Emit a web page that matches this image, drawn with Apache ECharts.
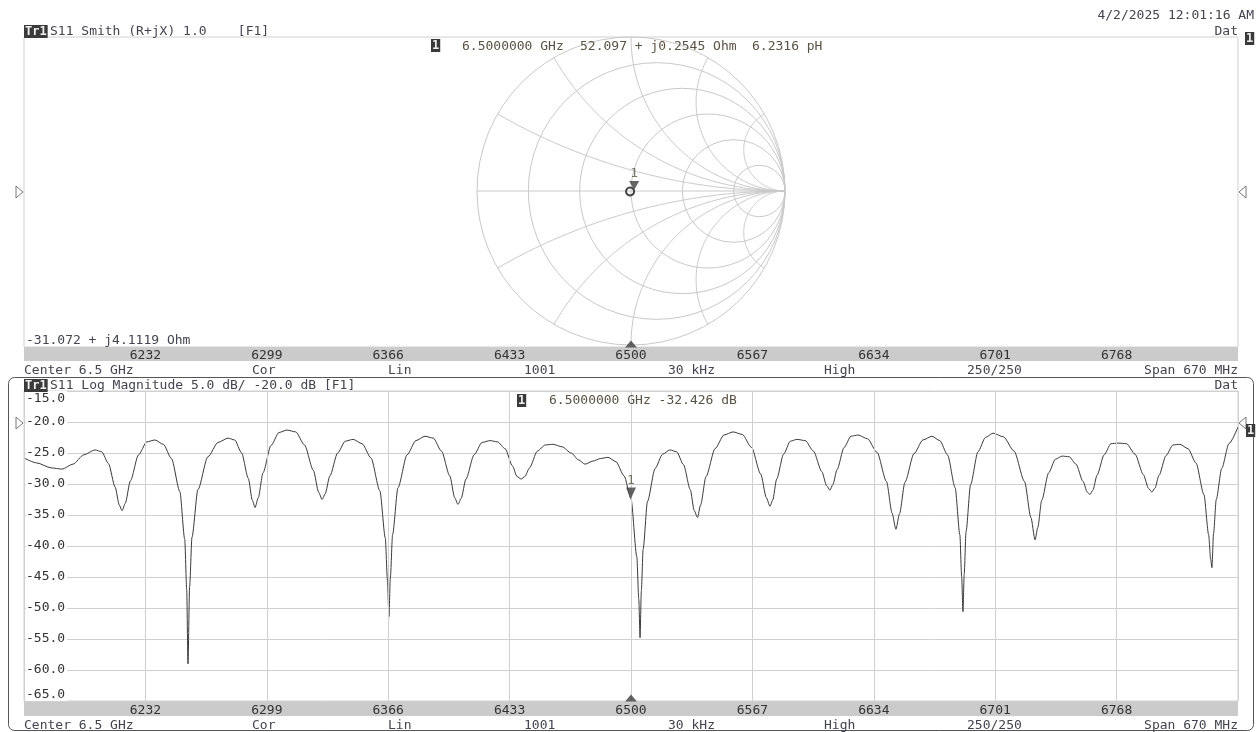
<!DOCTYPE html>
<html>
<head>
<meta charset="utf-8">
<script src="https://cdn.jsdelivr.net/npm/echarts@6/dist/echarts.min.js"></script>
<style>
html,body{margin:0;padding:0;background:#fff;}
#chart{width:1256px;height:732px;}
</style>
</head>
<body>
<div id="chart"></div>
<script>
// ---------- DATA ----------
const freqStart = 6165, freqStop = 6835, freqStep = 67;   // MHz
const dbMin = -65, dbMax = -15, dbStep = 5;

const traceFreq = [6165,6172,6180,6186,6192,6198,6204.2,6207.9,6211.6,6215.3,6217.6,6219.1,6220.9,6223.7,6228.2,6232.8,6237.3,6241.9,6246.4,6251.0,6253.7,6254.8,6255.5,6256.4,6257.7,6261.0,6266.5,6272.1,6277.6,6281.3,6285.1,6288.8,6291.0,6292.5,6294.3,6296.9,6301.3,6305.7,6310.1,6315.0,6319.8,6324.7,6327.6,6329.5,6331.2,6333.8,6338.1,6342.3,6346.6,6351.6,6356.5,6361.4,6364.4,6365.6,6366.4,6367.2,6368.4,6371.4,6376.4,6381.3,6386.3,6390.9,6395.4,6400.0,6402.7,6404.5,6406.3,6408.9,6413.4,6417.8,6422.2,6426.3,6430.5,6434.6,6437.1,6439.4,6441.4,6444.0,6448.3,6452.7,6457.0,6462.0,6467.0,6471.0,6474.6,6479.0,6483.0,6487.3,6491.7,6496.2,6500.0,6503.2,6504.3,6505.0,6505.7,6506.7,6509.1,6513.3,6517.4,6521.5,6525.2,6529.0,6532.7,6534.9,6536.7,6538.4,6541.4,6546.4,6551.3,6556.3,6561.4,6566.5,6571.6,6574.7,6576.7,6578.2,6580.4,6584.2,6587.9,6591.6,6596.2,6600.7,6605.3,6608.0,6609.8,6611.4,6613.7,6617.6,6621.4,6625.3,6630.5,6635.8,6641.0,6644.1,6646.2,6648.2,6651.2,6656.2,6661.1,6666.1,6670.4,6674.7,6678.9,6681.5,6682.5,6683.2,6683.9,6684.9,6687.4,6691.5,6695.6,6699.8,6705.6,6711.4,6717.2,6720.7,6723.0,6724.5,6726.7,6730.5,6734.2,6737.9,6741.8,6745.6,6749.5,6751.8,6753.3,6754.9,6757.2,6761.1,6764.9,6768.8,6773.5,6778.2,6782.8,6785.6,6787.5,6789.1,6791.4,6795.3,6799.1,6803.0,6807.4,6811.8,6816.2,6818.8,6819.9,6820.6,6821.5,6823.0,6826.0,6830.0,6835.0];
const traceDb = [-25.8,-26.6,-27.4,-27.6,-26.8,-25.3,-24.5,-24.8,-26.7,-30.5,-33.4,-34.3,-33.1,-29.5,-25.3,-23.2,-22.9,-23.6,-25.9,-31.2,-38.9,-47.0,-59.0,-46.6,-38.6,-30.9,-25.6,-23.3,-22.6,-22.9,-25.0,-29.1,-32.6,-33.8,-32.2,-28.2,-23.8,-21.7,-21.3,-21.6,-23.7,-27.8,-31.3,-32.5,-31.6,-28.7,-25.0,-23.1,-22.8,-23.5,-25.8,-31.1,-38.7,-45.6,-51.4,-45.1,-38.2,-30.6,-25.3,-23.0,-22.3,-22.6,-24.7,-28.7,-32.2,-33.3,-32.3,-29.2,-25.3,-23.3,-23.0,-23.2,-24.3,-27.1,-28.8,-29.2,-28.8,-27.4,-24.7,-23.7,-23.6,-24.0,-25.0,-26.1,-26.8,-26.3,-25.9,-25.7,-26.4,-28.7,-32.4,-41.7,-48.6,-54.8,-47.3,-40.5,-32.8,-27.5,-25.2,-24.5,-24.8,-26.9,-30.9,-34.3,-35.4,-33.4,-28.8,-24.3,-22.1,-21.6,-22.0,-24.1,-28.4,-32.2,-33.6,-32.6,-29.2,-25.2,-23.1,-22.8,-23.0,-24.7,-28.0,-30.3,-31.0,-30.1,-27.7,-24.1,-22.3,-22.1,-22.7,-24.9,-29.6,-34.7,-37.3,-34.8,-29.7,-25.1,-22.9,-22.3,-23.0,-25.3,-30.6,-38.2,-45.0,-50.6,-44.5,-37.7,-30.1,-24.8,-22.5,-21.8,-22.4,-24.7,-29.6,-35.4,-39.0,-37.0,-32.6,-28.2,-26.0,-25.5,-25.6,-26.8,-29.6,-31.3,-31.7,-31.0,-28.6,-25.3,-23.5,-23.4,-23.5,-25.2,-28.5,-30.7,-31.3,-30.7,-28.6,-25.4,-23.7,-23.6,-24.3,-26.6,-31.7,-38.2,-42.1,-43.5,-38.0,-32.5,-27.5,-23.5,-20.8];

// Smith chart grid values (normalised resistance / reactance)
const smithResistance = [0, 0.2, 0.5, 1, 2, 5];
const smithReactance = [0, 0.268, 0.577, 1, 1.732, 3.732, -0.268, -0.577, -1, -1.732, -3.732];

// Smith trace (reflection coefficient, real / imaginary)
const smithRe = [0.020, 0.0165, 0.007, -0.006, -0.019, -0.0285, -0.032, -0.0285, -0.019, -0.006, 0.007, 0.0165, 0.020];
const smithIm = [-0.003, 0.010, 0.0195, 0.023, 0.0195, 0.010, -0.003, -0.016, -0.0255, -0.029, -0.0255, -0.016, -0.003];

// Marker 1
const markerFreq = 6500;
const markerDb = -32.426;
const markerGammaRe = 0.0205, markerGammaIm = 0.0025;

// Texts
const dateText = '4/2/2025 12:01:16 AM';
const smithTitle = 'S11 Smith (R+jX) 1.0    [F1]';
const logTitle = 'S11 Log Magnitude 5.0 dB/ -20.0 dB [F1]';
const smithMarkerFreq = '6.5000000 GHz';
const smithMarkerZ = '52.097 + j0.2545 Ohm';
const smithMarkerL = '6.2316 pH';
const smithCursor = '-31.072 + j4.1119 Ohm';
const logMarkerText = '6.5000000 GHz -32.426 dB';
const footerLabels = ['Center 6.5 GHz','Cor','Lin','1001','30 kHz','High','250/250','Span 670 MHz'];

// ---------- CHART ----------
const MONO = '"DejaVu Sans Mono", "Liberation Mono", monospace';
const FONT = '13px ' + MONO;
const TXT = '#444450';
const MK = '#5a5244';
const GRIDC = '#d0d0d0';
const BAR = '#cbcbcb';
const DY = 1.5; // vertical text correction

const chart = echarts.init(document.getElementById('chart'), null, {renderer: 'canvas'});

function freqAxis(gridIndex, split, margin) {
  return {
    type: 'value', gridIndex: gridIndex, min: freqStart, max: freqStop, interval: freqStep,
    z: 5,
    axisLine: {show: false},
    axisTick: {show: false},
    splitLine: {show: split, lineStyle: {color: GRIDC, width: 1}},
    axisLabel: {show: true, showMinLabel: false, showMaxLabel: false, margin: margin,
      verticalAlign: 'middle', color: '#333', fontFamily: MONO, fontSize: 13,
      formatter: v => String(Math.round(v))}
  };
}

function txt(x, y, text, align, color) {
  return {
    type: 'text', x: x, y: y + DY, z: 100,
    style: {text: text, font: FONT, fill: color || TXT, align: align || 'left', verticalAlign: 'middle'}
  };
}
function badge(x, y, text) {
  return {
    type: 'text', x: x, y: y + DY, z: 100,
    style: {text: text, font: 'bold 12px ' + MONO, fill: '#f0f0f0', backgroundColor: '#3a3a3a',
      padding: [1, 1, 0, 1], align: 'left', verticalAlign: 'middle'}
  };
}
function triRight(x, y) {
  return {type: 'polygon', z: 100, shape: {points: [[x, y - 6], [x + 7, y], [x, y + 6]]},
    style: {fill: '#fff', stroke: '#777', lineWidth: 1}};
}
function triLeft(x, y) {
  return {type: 'polygon', z: 100, shape: {points: [[x, y - 6], [x - 7, y], [x, y + 6]]},
    style: {fill: '#fff', stroke: '#777', lineWidth: 1}};
}
function bar(y) {
  return {type: 'rect', z: -1, silent: true, shape: {x: 24, y: y, width: 1214, height: 14},
    style: {fill: BAR}};
}

const footerX = [24, 252, 388, 524, 668, 824, 967, 1238];
function footer(y) {
  return footerLabels.map((t, i) => txt(footerX[i], y, t, i === footerLabels.length - 1 ? 'right' : 'left', TXT));
}

const SMITH_STROKE = '#c9c9c9';

const option = {
  animation: false,
  backgroundColor: '#fff',
  grid: [
    {left: 24, top: 391, width: 1214, height: 310, show: true, borderColor: GRIDC, borderWidth: 1, backgroundColor: 'transparent'},
    {left: 24, top: 37, width: 1214, height: 310, show: true, borderColor: GRIDC, borderWidth: 1, backgroundColor: 'transparent'},
    {left: 477, top: 37, width: 308, height: 308, show: false}
  ],
  xAxis: [
    freqAxis(0, true, 10),
    freqAxis(1, false, 9),
    {type: 'value', gridIndex: 2, min: -1, max: 1, show: false}
  ],
  yAxis: [
    {type: 'value', gridIndex: 0, min: dbMin, max: dbMax, interval: dbStep,
      axisLine: {show: false}, axisTick: {show: false},
      splitLine: {show: true, lineStyle: {color: GRIDC, width: 1}},
      axisLabel: {inside: true, margin: 2, color: '#333', fontFamily: MONO, fontSize: 13,
        backgroundColor: '#fff', padding: [1, 2, 0, 0],
        verticalAlign: 'middle', verticalAlignMinLabel: 'bottom', verticalAlignMaxLabel: 'top',
        formatter: v => v.toFixed(1)}},
    {type: 'value', gridIndex: 1, min: 0, max: 1, show: false},
    {type: 'value', gridIndex: 2, min: -1, max: 1, show: false}
  ],
  series: [
    // Smith resistance circles
    {
      type: 'custom', coordinateSystem: 'cartesian2d', xAxisIndex: 2, yAxisIndex: 2, clip: false, silent: true,
      data: smithResistance.map(r => [r, 0]),
      renderItem: function (params, api) {
        const r = api.value(0);
        const c = api.coord([r / (1 + r), 0]);
        const rad = api.size([1 / (1 + r), 0])[0];
        return {type: 'circle', shape: {cx: c[0], cy: c[1], r: rad},
          style: {fill: 'none', stroke: SMITH_STROKE, lineWidth: 1}};
      }
    },
    // Smith reactance arcs
    {
      type: 'custom', coordinateSystem: 'cartesian2d', xAxisIndex: 2, yAxisIndex: 2, clip: false, silent: true,
      data: smithReactance.map(x => [x, 0]),
      renderItem: function (params, api) {
        const x = api.value(0);
        let pts = [];
        if (x === 0) {
          pts = [api.coord([-1, 0]), api.coord([1, 0])];
        } else {
          const ax = Math.abs(x), s = Math.sign(x), R = 1 / ax;
          let a0 = Math.atan2((ax * ax - 1) / ax, -2);
          if (a0 < 0) a0 += 2 * Math.PI;
          const a1 = 1.5 * Math.PI, N = 120;
          for (let i = 0; i <= N; i++) {
            const a = a0 + (a1 - a0) * i / N;
            pts.push(api.coord([1 + R * Math.cos(a), s * (R + R * Math.sin(a))]));
          }
        }
        return {type: 'polyline', shape: {points: pts},
          style: {fill: 'none', stroke: SMITH_STROKE, lineWidth: 1}};
      }
    },
    // Smith trace
    {
      type: 'line', xAxisIndex: 2, yAxisIndex: 2, showSymbol: false, smooth: true,
      data: smithRe.map((v, i) => [v, smithIm[i]]),
      lineStyle: {color: '#444', width: 2}
    },
    // Smith marker
    {
      type: 'scatter', xAxisIndex: 2, yAxisIndex: 2, symbol: 'triangle', symbolRotate: 180,
      symbolSize: [10, 9], symbolOffset: [0, -5],
      itemStyle: {color: '#3d3d3d'},
      label: {show: true, position: 'top', distance: 1, formatter: '1', color: '#5a5244', fontFamily: MONO, fontSize: 13},
      data: [[markerGammaRe, markerGammaIm]]
    },
    // Log magnitude trace
    {
      type: 'line', xAxisIndex: 0, yAxisIndex: 0, showSymbol: false, smooth: 0.25, smoothMonotone: 'x',
      data: traceFreq.map((f, i) => [f, traceDb[i]]),
      lineStyle: {color: '#3a3a3a', width: 1}
    },
    // Log mag marker
    {
      type: 'scatter', xAxisIndex: 0, yAxisIndex: 0, symbol: 'triangle', symbolRotate: 180,
      symbolSize: [10, 11], symbolOffset: [0, -6], z: 5,
      itemStyle: {color: '#3d3d3d'},
      label: {show: true, position: 'top', distance: 0, formatter: '1', color: '#5a5244', fontFamily: MONO, fontSize: 13},
      data: [[markerFreq, markerDb]]
    },
    // Marker stimulus indicators on the frequency bars
    {
      type: 'scatter', xAxisIndex: 0, yAxisIndex: 0, symbol: 'triangle', symbolSize: [12, 7], symbolOffset: [0, -3],
      itemStyle: {color: '#3d3d3d'}, z: 6,
      data: [[markerFreq, dbMin]]
    },
    {
      type: 'scatter', xAxisIndex: 1, yAxisIndex: 1, symbol: 'triangle', symbolSize: [12, 7], symbolOffset: [0, -3],
      itemStyle: {color: '#3d3d3d'}, z: 6,
      data: [[markerFreq, 0]]
    }
  ],
  graphic: [
    bar(347),
    bar(702),
    {type: 'rect', z: 90, shape: {x: 8.5, y: 377.5, width: 1245, height: 353, r: 6},
      style: {fill: 'none', stroke: '#555', lineWidth: 1}},
    txt(1254, 14, dateText, 'right'),
    badge(24, 30, 'Tr1'),
    txt(50, 30, smithTitle, 'left'),
    txt(1238, 30, 'Dat', 'right'),
    badge(1245, 37, '1'),
    badge(431, 44, '1'),
    txt(462, 45, smithMarkerFreq, 'left', MK),
    txt(580, 45, smithMarkerZ, 'left', MK),
    txt(752, 45, smithMarkerL, 'left', MK),
    txt(26, 339, smithCursor, 'left'),
    triRight(16, 192),
    triLeft(1246, 192),
    ...footer(369),
    badge(24, 384, 'Tr1'),
    txt(50, 384, logTitle, 'left'),
    txt(1238, 384, 'Dat', 'right'),
    badge(517, 399, '1'),
    txt(549, 399, logMarkerText, 'left', MK),
    triRight(16, 423),
    triLeft(1246, 423),
    badge(1246, 429, '1'),
    ...footer(724)
  ]
};
chart.setOption(option);
</script>
</body>
</html>
